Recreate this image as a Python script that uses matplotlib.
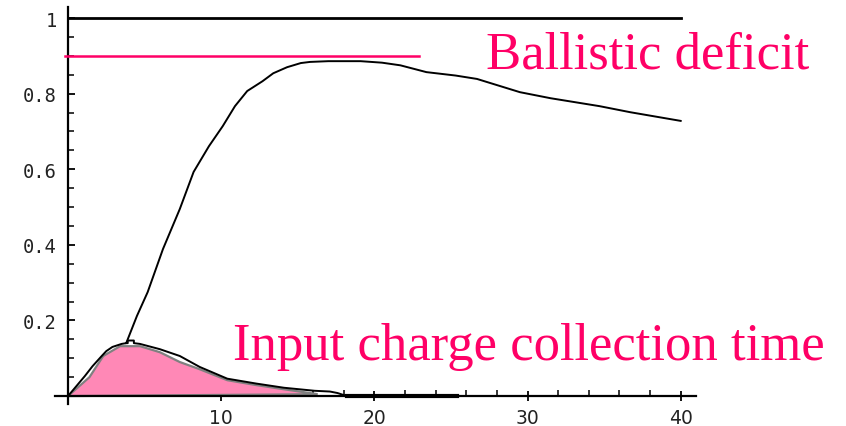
import matplotlib
matplotlib.use('Agg')
import matplotlib.pyplot as plt
from matplotlib.ticker import MultipleLocator, FixedLocator

# ballistic response (black)
t_bal = [0, 1.1, 1.6, 2.2, 2.5, 2.9, 3.5, 3.8, 4.5, 5.2, 6.2, 7.3, 8.2, 9.2,
         10.1, 10.9, 11.7, 12.7, 13.4, 14.3, 15.2, 15.8, 17.0, 19.1, 20.5,
         21.7, 23.4, 25.3, 26.7, 29.5, 31.5, 34.7, 36.7, 40]
y_bal = [0, 0.053, 0.079, 0.106, 0.119, 0.130, 0.138, 0.140, 0.212, 0.275,
         0.389, 0.495, 0.593, 0.661, 0.714, 0.767, 0.807, 0.833, 0.854, 0.870,
         0.881, 0.884, 0.886, 0.886, 0.882, 0.875, 0.857, 0.848, 0.839, 0.804,
         0.788, 0.767, 0.751, 0.728]

# input charge pulse outline (black), after the peak
t_pulse = [3.8, 3.9, 3.9, 4.3, 4.3, 4.7, 6.0, 7.3, 8.6, 10.4, 12.3, 14.1,
           16.1, 17.1, 17.6, 18.2, 25.4]
y_pulse = [0.140, 0.140, 0.147, 0.147, 0.140, 0.138, 0.124, 0.106, 0.077,
           0.046, 0.033, 0.022, 0.014, 0.012, 0.008, 0.0, 0.0]

# charge pulse (pink area)
t_q = [0, 1.4, 2.3, 3.4, 4.7, 6.0, 7.3, 8.6, 10.4, 12.3, 14.1, 16.3]
q = [0, 0.050, 0.106, 0.132, 0.132, 0.116, 0.090, 0.071, 0.042, 0.029,
     0.018, 0.005]

ref_level = 1.0
deficit_level = 0.9

pink = '#ff0066'

fig = plt.figure(figsize=(8.46, 4.27), dpi=100)
ax = fig.add_axes([0.065, 0.0515, 0.7577, 0.9295])

ax.fill(t_q, q, facecolor='#ff88b6', edgecolor='#808080', lw=1.6, zorder=2)
ax.plot(t_bal, y_bal, color='black', lw=1.4, zorder=3)
ax.plot(t_pulse, y_pulse, color='black', lw=1.4, zorder=3)
ax.plot([18.2, 25.4], [0, 0], color='black', lw=3, zorder=3)
ax.plot([0, 40], [ref_level, ref_level], color='black', lw=2, zorder=3)
ax.plot([-0.2, 22.9], [deficit_level, deficit_level], color=pink, lw=1.8,
        zorder=3)

ax.text(27.3, 0.868, 'Ballistic deficit', color=pink, fontsize=38,
        family='Liberation Serif', ha='left', va='baseline')
ax.text(10.8, 0.098, 'Input charge collection time', color=pink,
        fontsize=38, family='Liberation Serif', ha='left', va='baseline')

ax.set_xlim(-0.85, 41)
ax.set_ylim(-0.021, 1.029)

for s in ['top', 'right']:
    ax.spines[s].set_visible(False)
ax.spines['left'].set_position(('data', 0))
ax.spines['bottom'].set_position(('data', 0))
ax.spines['left'].set_linewidth(1.6)
ax.spines['bottom'].set_linewidth(1.6)

ax.xaxis.set_major_locator(FixedLocator([10, 20, 30, 40]))
ax.xaxis.set_minor_locator(MultipleLocator(2))
ax.yaxis.set_major_locator(FixedLocator([0.2, 0.4, 0.6, 0.8, 1.0]))
ax.yaxis.set_minor_locator(MultipleLocator(0.05))
ax.set_yticklabels(['0.2', '0.4', '0.6', '0.8', '1'], family='DejaVu Sans Mono',
                   fontsize=13.5, color='#222222')
ax.set_xticklabels(['10', '20', '30', '40'], fontsize=13.5, color='#222222')

ax.tick_params(axis='x', which='major', direction='inout', length=7, width=1.3,
               pad=5)
ax.tick_params(axis='x', which='minor', direction='in', length=4, width=1.1)
ax.tick_params(axis='y', which='major', direction='in', length=5, width=1.3,
               pad=8)
ax.tick_params(axis='y', which='minor', direction='in', length=4, width=1.1)

fig.savefig('out.png', dpi=100)
